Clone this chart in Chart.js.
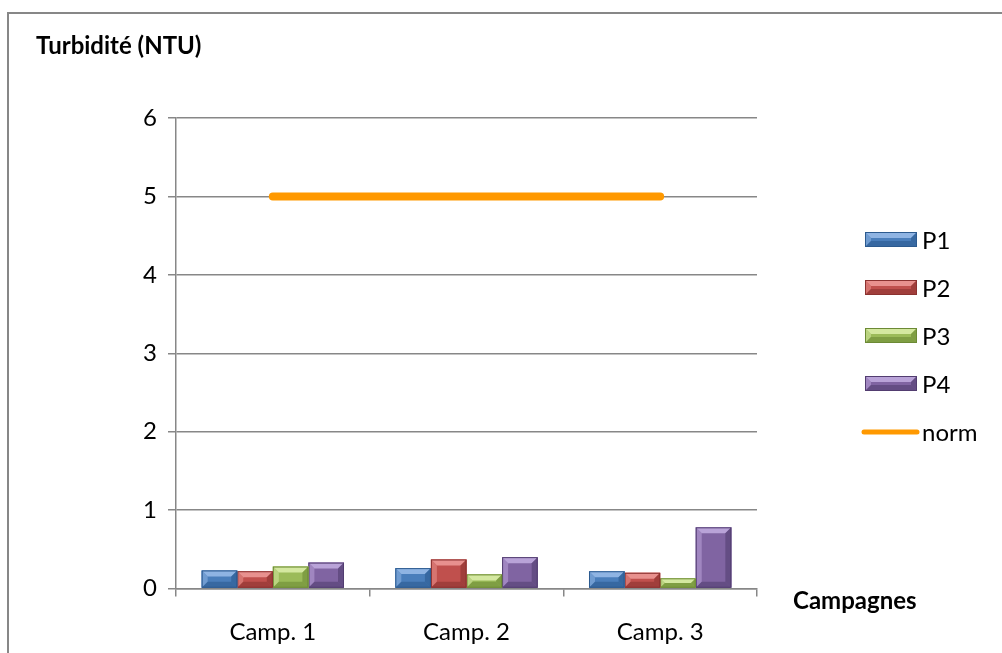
<!DOCTYPE html>
<html>
<head>
<meta charset="utf-8">
<script src="https://cdn.jsdelivr.net/npm/chart.js@4.4.1/dist/chart.umd.min.js"></script>
<style>
  html, body { margin: 0; padding: 0; background: #fff; overflow: hidden; }
  #frame {
    position: absolute; left: 7px; top: 12px; width: 1100px; height: 700px;
    border-left: 2px solid #878787; border-top: 2px solid #878787;
  }
  #wrap { position: absolute; left: 0; top: 0; width: 1002px; height: 653px; }
</style>
</head>
<body>
<div id="frame"></div>
<div id="wrap"><canvas id="turbChart" width="1002" height="653"></canvas></div>
<script>
// data
const categories = ['Camp. 1', 'Camp. 2', 'Camp. 3'];
const p1 = [0.23, 0.26, 0.22];
const p2 = [0.22, 0.37, 0.20];
const p3 = [0.28, 0.18, 0.13];
const p4 = [0.33, 0.40, 0.78];
const norm = [5, 5, 5];
const yTicks = [0, 1, 2, 3, 4, 5, 6];

const FONT = 'Lato, "Noto Sans", sans-serif';
const GRID = '#878787';

// mid, light, dark shades for the bevelled bars
const shades = [
  { mid: '#4a7ebb', light: '#8fb4e3', dark: '#2c5a8f' },
  { mid: '#c0504d', light: '#e8918e', dark: '#8b3230' },
  { mid: '#9bbb59', light: '#d4e8a0', dark: '#6c8a35' },
  { mid: '#8064a2', light: '#b9a3d8', dark: '#523d70' }
];

function bevelRect(ctx, l, t, r, b, s) {
  const bv = Math.max(0, Math.min(6, (b - t) / 2, (r - l) / 2));
  ctx.save();
  ctx.fillStyle = s.mid;
  ctx.fillRect(l, t, r - l, b - t);
  // top face
  ctx.fillStyle = s.light;
  ctx.beginPath();
  ctx.moveTo(l, t); ctx.lineTo(r, t); ctx.lineTo(r - bv, t + bv); ctx.lineTo(l + bv, t + bv);
  ctx.closePath(); ctx.fill();
  // left face
  ctx.globalAlpha = 0.55;
  ctx.beginPath();
  ctx.moveTo(l, t); ctx.lineTo(l + bv, t + bv); ctx.lineTo(l + bv, b - bv); ctx.lineTo(l, b);
  ctx.closePath(); ctx.fill();
  // right and bottom faces
  ctx.fillStyle = s.dark;
  ctx.globalAlpha = 0.6;
  ctx.beginPath();
  ctx.moveTo(r, t); ctx.lineTo(r, b); ctx.lineTo(r - bv, b - bv); ctx.lineTo(r - bv, t + bv);
  ctx.closePath(); ctx.fill();
  ctx.beginPath();
  ctx.moveTo(l, b); ctx.lineTo(r, b); ctx.lineTo(r - bv, b - bv); ctx.lineTo(l + bv, b - bv);
  ctx.closePath(); ctx.fill();
  ctx.globalAlpha = 1;
  ctx.strokeStyle = s.dark;
  ctx.lineWidth = 1;
  ctx.strokeRect(l + 0.5, t + 0.5, r - l - 1, b - t - 1);
  ctx.restore();
}

// redraw bar elements with a bevel look, using the positions chart.js computed
const bevelPlugin = {
  id: 'bevel',
  afterDatasetDraw(chart, args) {
    const ds = chart.data.datasets[args.index];
    if (ds.type === 'line') return;
    const ctx = chart.ctx;
    args.meta.data.forEach(bar => {
      const p = bar.getProps(['x', 'y', 'base', 'width'], true);
      bevelRect(ctx, p.x - p.width / 2, p.y, p.x + p.width / 2, p.base, shades[args.index]);
    });
  }
};

// axis titles and legend laid out like the Excel original
const textPlugin = {
  id: 'texts',
  afterDraw(chart) {
    const ctx = chart.ctx;
    const area = chart.chartArea;
    ctx.save();
    ctx.fillStyle = '#000';
    ctx.textBaseline = 'middle';
    ctx.font = 'bold 24px ' + FONT;
    ctx.fillText('Turbidité (NTU)', 36, 46);
    ctx.fillText('Campagnes', area.right + 36, 601);

    ctx.font = '24px ' + FONT;
    chart.data.datasets.forEach((ds, i) => {
      const cy = 240 + i * 48;
      if (ds.type === 'line') {
        ctx.strokeStyle = ds.borderColor;
        ctx.lineWidth = 5;
        ctx.lineCap = 'round';
        ctx.beginPath();
        ctx.moveTo(864, cy); ctx.lineTo(917, cy);
        ctx.stroke();
      } else {
        bevelRect(ctx, 865, cy - 8, 917, cy + 7, shades[i]);
      }
      ctx.fillText(ds.label, 922, cy + 1);
    });
    ctx.restore();
  }
};

const barSets = [p1, p2, p3, p4].map((vals, i) => ({
  label: 'P' + (i + 1),
  data: vals,
  backgroundColor: shades[i].mid,
  categoryPercentage: 0.735,
  barPercentage: 1,
  order: 2
}));

new Chart(document.getElementById('turbChart'), {
  type: 'bar',
  data: {
    labels: categories,
    datasets: [
      ...barSets,
      {
        type: 'line',
        label: 'norm',
        data: norm,
        borderColor: '#ff9900',
        borderWidth: 8,
        borderCapStyle: 'round',
        pointRadius: 0,
        order: 1
      }
    ]
  },
  options: {
    responsive: false,
    animation: false,
    layout: { padding: { left: 0, top: 118, right: 245, bottom: 0 } },
    plugins: { legend: { display: false }, tooltip: { enabled: false } },
    scales: {
      x: {
        afterFit(scale) { scale.height = 64.5; },
        grid: { display: true, offset: true, drawOnChartArea: false, color: GRID, lineWidth: 1.5, tickLength: 8 },
        border: { color: GRID, width: 1.5 },
        ticks: { color: '#000', font: { family: FONT, size: 24 }, padding: 21 }
      },
      y: {
        min: 0,
        max: 6,
        afterFit(scale) { scale.width = 176; },
        afterBuildTicks(scale) { scale.ticks = yTicks.map(v => ({ value: v })); },
        grid: { color: GRID, lineWidth: 1.5, tickLength: 8 },
        border: { color: GRID, width: 1.5 },
        ticks: { color: '#000', font: { family: FONT, size: 24 }, padding: 11 }
      }
    }
  },
  plugins: [bevelPlugin, textPlugin]
});
</script>
</body>
</html>
